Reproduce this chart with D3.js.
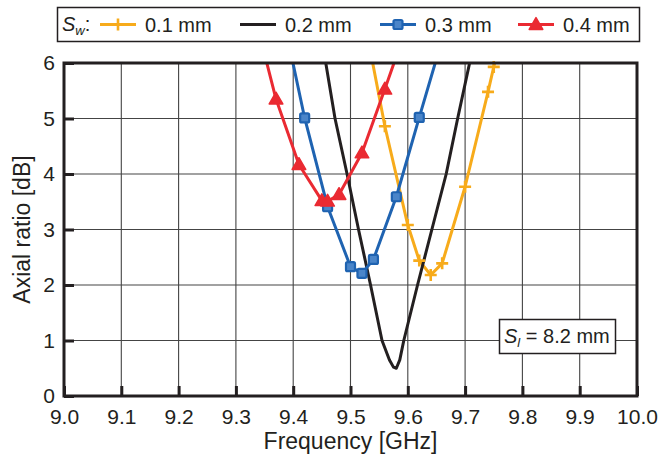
<!DOCTYPE html>
<html>
<head>
<meta charset="utf-8">
<script src="https://cdn.jsdelivr.net/npm/d3@7"></script>
<style>
  body { margin: 0; background: #fff; }
  text { font-family: "Liberation Sans", Arial, sans-serif; fill: #231f20; }
</style>
</head>
<body>
<div id="chart"></div>
<script>
var margin = { top: 63, right: 25, bottom: 63, left: 64 },
    W = 662, H = 459,
    width = W - margin.left - margin.right,
    height = H - margin.top - margin.bottom;

// tick labels
var xTicks = [9.0, 9.1, 9.2, 9.3, 9.4, 9.5, 9.6, 9.7, 9.8, 9.9, 10.0];
var yTicks = [0, 1, 2, 3, 4, 5, 6];

// Sw = 0.1 mm (yellow, +)
var sw01Freq = [9.535, 9.56, 9.60, 9.62, 9.64, 9.66, 9.70, 9.74, 9.75, 9.755];
var sw01AR   = [6.2, 4.86, 3.08, 2.44, 2.18, 2.39, 3.77, 5.48, 5.93, 6.15];
// Sw = 0.2 mm (black, no markers)
var sw02Freq = [9.452, 9.473, 9.494, 9.514, 9.535, 9.555, 9.568, 9.575, 9.58, 9.586, 9.593, 9.617, 9.642, 9.667, 9.687, 9.711];
var sw02AR   = [6.3, 5.0, 4.0, 3.0, 2.0, 1.0, 0.65, 0.52, 0.5, 0.65, 1.0, 2.0, 3.0, 4.0, 5.0, 6.15];
// Sw = 0.3 mm (blue, square)
var sw03Freq = [9.395, 9.42, 9.46, 9.50, 9.52, 9.54, 9.58, 9.62, 9.655];
var sw03AR   = [6.22, 5.01, 3.41, 2.33, 2.21, 2.46, 3.59, 5.02, 6.25];
// Sw = 0.4 mm (red, triangle)
var sw04Freq = [9.35, 9.37, 9.41, 9.45, 9.46, 9.48, 9.52, 9.56, 9.58];
var sw04AR   = [6.16, 5.35, 4.17, 3.52, 3.51, 3.63, 4.38, 5.53, 6.12];

var series = [
    { name: "0.1 mm", color: "#f7ab1b", marker: "plus", f: sw01Freq, v: sw01AR },
    { name: "0.2 mm", color: "#231f20", marker: "none", f: sw02Freq, v: sw02AR },
    { name: "0.3 mm", color: "#1f63b1", marker: "square", f: sw03Freq, v: sw03AR },
    { name: "0.4 mm", color: "#ea2a32", marker: "triangle", f: sw04Freq, v: sw04AR }
];

var x = d3.scaleLinear().domain([9.0, 10.0]).range([0, width]);
var y = d3.scaleLinear().domain([0, 6]).range([height, 0]);

var svg = d3.select("#chart").append("svg")
    .attr("width", W)
    .attr("height", H);

var g = svg.append("g")
    .attr("transform", "translate(" + margin.left + "," + margin.top + ")");

g.append("clipPath").attr("id", "plot-clip")
  .append("rect").attr("width", width).attr("height", height);

// grid
g.append("g").selectAll("line").data(xTicks.slice(1, -1)).enter().append("line")
    .attr("x1", function (d) { return x(d); }).attr("x2", function (d) { return x(d); })
    .attr("y1", 0).attr("y2", height)
    .attr("stroke", "#444").attr("stroke-width", 1.1);
g.append("g").selectAll("line").data(yTicks.slice(1, -1)).enter().append("line")
    .attr("y1", function (d) { return y(d); }).attr("y2", function (d) { return y(d); })
    .attr("x1", 0).attr("x2", width)
    .attr("stroke", "#444").attr("stroke-width", 1.1);

// axes (inward ticks)
var xAxis = d3.axisBottom(x).tickValues(xTicks).tickSize(-10).tickPadding(13)
    .tickFormat(d3.format(".1f"));
var yAxis = d3.axisLeft(y).tickValues(yTicks).tickSize(-10).tickPadding(9)
    .tickFormat(d3.format("d"));

var gx = g.append("g").attr("transform", "translate(0," + height + ")").call(xAxis);
var gy = g.append("g").call(yAxis);
[gx, gy].forEach(function (a) {
    a.select(".domain").remove();
    a.selectAll(".tick line").attr("stroke", "#231f20").attr("stroke-width", 3);
    a.selectAll(".tick text").style("font-size", "21px").attr("fill", "#231f20");
});

// series lines
var line = d3.line()
    .x(function (d) { return x(d[0]); })
    .y(function (d) { return y(d[1]); });

var plot = g.append("g").attr("clip-path", "url(#plot-clip)");
series.forEach(function (s) {
    var pts = s.f.map(function (f, i) { return [f, s.v[i]]; });
    plot.append("path")
        .attr("d", line(pts))
        .attr("fill", "none")
        .attr("stroke", s.color)
        .attr("stroke-width", 3)
        .attr("stroke-linejoin", "round");
});

function drawMarker(sel, s, cx, cy) {
    if (s.marker === "plus") {
        sel.append("path")
            .attr("d", "M" + (cx - 6) + "," + cy + "h12M" + cx + "," + (cy - 6) + "v12")
            .attr("stroke", s.color).attr("stroke-width", 2.6).attr("fill", "none");
    } else if (s.marker === "square") {
        sel.append("rect")
            .attr("x", cx - 4.5).attr("y", cy - 4.5).attr("width", 9).attr("height", 9)
            .attr("rx", 1.5)
            .attr("fill", "#4a85c9").attr("stroke", s.color).attr("stroke-width", 2.2);
    } else if (s.marker === "triangle") {
        sel.append("path")
            .attr("d", d3.symbol().type(d3.symbolTriangle).size(80)())
            .attr("transform", "translate(" + cx + "," + (cy + 1) + ")")
            .attr("fill", s.color).attr("stroke", s.color).attr("stroke-width", 1.5)
            .attr("stroke-linejoin", "round");
    }
}

var marks = g.append("g");
series.forEach(function (s) {
    s.f.forEach(function (f, i) {
        if (s.v[i] <= 6) drawMarker(marks, s, x(f), y(s.v[i]));
    });
});

// frame
g.append("rect")
    .attr("width", width).attr("height", height)
    .attr("fill", "none").attr("stroke", "#231f20").attr("stroke-width", 3);

// axis titles
svg.append("text")
    .attr("x", margin.left + width / 2).attr("y", 449)
    .attr("text-anchor", "middle")
    .style("font-size", "23px")
    .text("Frequency [GHz]");
svg.append("text")
    .attr("transform", "translate(30," + (margin.top + height / 2) + ") rotate(-90)")
    .attr("text-anchor", "middle")
    .style("font-size", "23px")
    .text("Axial ratio [dB]");

// legend
var leg = svg.append("g");
leg.append("rect")
    .attr("x", 57.5).attr("y", 7.5).attr("width", 582).attr("height", 34)
    .attr("fill", "#fff").attr("stroke", "#231f20").attr("stroke-width", 1.5);
var lt = leg.append("text").attr("x", 62).attr("y", 31).style("font-size", "20px");
lt.append("tspan").style("font-style", "italic").text("S");
lt.append("tspan").style("font-style", "italic").style("font-size", "13px").attr("dy", 4).text("w");
lt.append("tspan").attr("dy", -4).text(":");

var legX = [100, 240, 380, 518];
series.forEach(function (s, i) {
    var lx = legX[i];
    leg.append("line")
        .attr("x1", lx).attr("x2", lx + 36).attr("y1", 24.5).attr("y2", 24.5)
        .attr("stroke", s.color).attr("stroke-width", 3);
    drawMarker(leg, s, lx + 18, 24.5);
    leg.append("text")
        .attr("x", lx + 45).attr("y", 31.5)
        .style("font-size", "20px")
        .text(s.name);
});

// Sl annotation
var ann = svg.append("g");
ann.append("rect")
    .attr("x", 499.5).attr("y", 319.5).attr("width", 116).attr("height", 34)
    .attr("fill", "#fff").attr("stroke", "#231f20").attr("stroke-width", 1.5);
var at = ann.append("text").attr("x", 504).attr("y", 343).style("font-size", "20px");
at.append("tspan").style("font-style", "italic").text("S");
at.append("tspan").style("font-style", "italic").style("font-size", "13px").attr("dy", 4).text("l");
at.append("tspan").attr("dy", -4).text(" = 8.2 mm");
</script>
</body>
</html>
